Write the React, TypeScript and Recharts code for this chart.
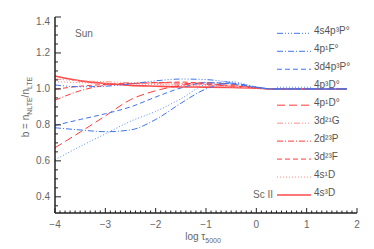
import React from "react";
import {
  LineChart,
  Line,
  XAxis,
  YAxis,
  Customized,
} from "recharts";

// log tau_5000 sample points
const logTau = [-4, -3.5, -3, -2.5, -2, -1.5, -1, -0.5, 0, 0.3, 1.8];

// departure coefficients b = n_NLTE / n_LTE
const b4s4p3P = [1.022, 1.012, 1.015, 1.028, 1.045, 1.055, 1.052, 1.035, 1.01, 1.0, 1.0];
const b4p1F = [0.784, 0.772, 0.762, 0.772, 0.83, 0.92, 1.0, 1.032, 1.01, 1.0, 1.0];
const b3d4p3P = [0.797, 0.83, 0.862, 0.9, 0.955, 1.005, 1.035, 1.028, 1.008, 1.0, 1.0];
const b4p3D = [0.606, 0.68, 0.75, 0.82, 0.875, 0.945, 1.025, 1.04, 1.012, 1.0, 1.0];
const b4p1D = [0.673, 0.76, 0.85, 0.94, 0.99, 1.02, 1.035, 1.025, 1.008, 1.0, 1.0];
const b3d21G = [1.055, 1.045, 1.04, 1.035, 1.03, 1.025, 1.02, 1.012, 1.005, 1.0, 1.0];
const b2d23P = [0.937, 0.99, 1.02, 1.03, 1.035, 1.032, 1.025, 1.015, 1.005, 1.0, 1.0];
const b3d23F = [0.998, 1.015, 1.025, 1.03, 1.035, 1.038, 1.03, 1.018, 1.006, 1.0, 1.0];
const b4s1D = [1.04, 1.035, 1.03, 1.028, 1.025, 1.02, 1.015, 1.01, 1.004, 1.0, 1.0];
const b4s3D = [1.072, 1.045, 1.03, 1.02, 1.015, 1.011, 1.01, 1.008, 1.004, 1.0, 1.0];

const xMajor = [-4, -3, -2, -1, 0, 1, 2];
const yMajor = [0.4, 0.6, 0.8, 1.0, 1.2, 1.4];

const BLUE = "#3f74ee";
const BLUE_LIGHT = "#5b8ff5";
const RED = "#ff3b3b";
const RED_LIGHT = "#ff8c8c";

const DDD = "6 2 1 2 1 2 1 2";
const DD = "6 2 1 2";

// legend order top to bottom
const series = [
  { key: "s4s4p3P", label: "4s4p³P°", values: b4s4p3P, color: BLUE, dash: DDD, width: 1 },
  { key: "s4p1F", label: "4p¹F°", values: b4p1F, color: BLUE, dash: DD, width: 1 },
  { key: "s3d4p3P", label: "3d4p³P°", values: b3d4p3P, color: BLUE, dash: "5 3", width: 1 },
  { key: "s4p3D", label: "4p³D°", values: b4p3D, color: BLUE_LIGHT, dash: "1 2", width: 1 },
  { key: "s4p1D", label: "4p¹D°", values: b4p1D, color: RED, dash: "8 4", width: 1 },
  { key: "s3d21G", label: "3d²¹G", values: b3d21G, color: RED_LIGHT, dash: DDD, width: 1 },
  { key: "s2d23P", label: "2d²³P", values: b2d23P, color: RED, dash: DD, width: 1 },
  { key: "s3d23F", label: "3d²³F", values: b3d23F, color: RED, dash: "5 3", width: 1 },
  { key: "s4s1D", label: "4s¹D", values: b4s1D, color: RED_LIGHT, dash: "1 2", width: 1 },
  { key: "s4s3D", label: "4s³D", values: b4s3D, color: "#ff4a4a", dash: undefined, width: 1.6 },
];

const data = logTau.map((x, i) => {
  const row: Record<string, number> = { x };
  series.forEach((s) => (row[s.key] = s.values[i]));
  return row;
});

const round2 = (v: number) => Math.round(v * 100) / 100;
const xTicks: number[] = [];
for (let i = 0; i <= 60; i++) xTicks.push(round2(-4 + i * 0.1));
const yTicks: number[] = [];
for (let i = 0; i <= 21; i++) yTicks.push(round2(0.35 + i * 0.05));

const isMajor = (v: number, majors: number[]) => majors.some((m) => Math.abs(m - v) < 1e-6);
const fmtX = (v: number) => (v < 0 ? "\u2212" + Math.abs(v) : String(v));

const FONT = "Liberation Sans, Arial, sans-serif";
const AXIS = "#222";
const TEXT = "#666";

const BottomTick = (props: any) => {
  const { x, y, payload } = props;
  const major = isMajor(payload.value, xMajor);
  return (
    <g>
      <line x1={x} x2={x} y1={y} y2={y - (major ? 5 : 2.5)} stroke={AXIS} />
      {major && (
        <text x={x} y={y + 15} textAnchor="middle" fontSize={10} fill={TEXT} fontFamily={FONT}>
          {fmtX(payload.value)}
        </text>
      )}
    </g>
  );
};

const TopTick = (props: any) => {
  const { x, y, payload } = props;
  const major = isMajor(payload.value, xMajor);
  return <line x1={x} x2={x} y1={y} y2={y + (major ? 5 : 2.5)} stroke={AXIS} />;
};

const LeftTick = (props: any) => {
  const { x, y, payload } = props;
  const major = isMajor(payload.value, yMajor);
  return (
    <g>
      <line x1={x} x2={x + (major ? 6 : 3)} y1={y} y2={y} stroke={AXIS} />
      {major && (
        <text
          x={x - 5}
          y={y + (payload.value > 1.35 ? 8 : 3.5)}
          textAnchor="end"
          fontSize={10}
          fill={TEXT}
          fontFamily={FONT}
        >
          {payload.value.toFixed(1)}
        </text>
      )}
    </g>
  );
};

const RightTick = (props: any) => {
  const { x, y, payload } = props;
  const major = isMajor(payload.value, yMajor);
  return <line x1={x} x2={x - (major ? 6 : 3)} y1={y} y2={y} stroke={AXIS} />;
};

const Annotations = () => (
  <g fontFamily={FONT} fill={TEXT}>
    <text x={75} y={37} fontSize={10}>Sun</text>
    <text x={273} y={198} fontSize={10} textAnchor="end">Sc II</text>
    {series.map((s, i) => {
      const y = 33.3 + i * 17.97;
      return (
        <g key={s.key}>
          <line x1={277} x2={311} y1={y} y2={y} stroke={s.color} strokeWidth={s.width} strokeDasharray={s.dash} />
          <text x={314} y={y + 1} fontSize={10} fill="#555">{s.label}</text>
        </g>
      );
    })}
    <text x={203} y={240} fontSize={10} textAnchor="middle">
      log τ<tspan fontSize={7} dy={3}>5000</tspan>
    </text>
    <text x={29} y={107} fontSize={10} textAnchor="middle" transform="rotate(-90 29 107)">
      b = n<tspan fontSize={7} dy={3}>NLTE</tspan>
      <tspan dy={-3}>/n</tspan>
      <tspan fontSize={7} dy={3}>LTE</tspan>
    </text>
  </g>
);

export default function App() {
  return (
    <div style={{ position: "absolute", left: 0, top: 0, background: "#fff" }}>
      <LineChart width={374} height={249} data={data} margin={{ top: 17, right: 17, bottom: 0, left: 0 }}>
        <XAxis
          dataKey="x"
          type="number"
          domain={[-4, 2]}
          ticks={xTicks}
          interval={0}
          height={36}
          tickSize={0}
          tickMargin={0}
          tickLine={false}
          axisLine={{ stroke: AXIS, strokeWidth: 1.5 }}
          tick={(p: any) => <BottomTick {...p} />}
        />
        <XAxis
          xAxisId="top"
          orientation="top"
          dataKey="x"
          type="number"
          domain={[-4, 2]}
          ticks={xTicks}
          interval={0}
          height={0}
          tickSize={0}
          tickMargin={0}
          tickLine={false}
          axisLine={{ stroke: AXIS, strokeWidth: 1.5 }}
          tick={(p: any) => <TopTick {...p} />}
        />
        <YAxis
          type="number"
          domain={[0.31, 1.4]}
          ticks={yTicks}
          interval={0}
          width={55}
          tickSize={0}
          tickMargin={0}
          tickLine={false}
          allowDataOverflow
          axisLine={{ stroke: AXIS, strokeWidth: 1.5 }}
          tick={(p: any) => <LeftTick {...p} />}
        />
        <YAxis
          yAxisId="right"
          orientation="right"
          type="number"
          domain={[0.31, 1.4]}
          ticks={yTicks}
          interval={0}
          width={0}
          tickSize={0}
          tickMargin={0}
          tickLine={false}
          allowDataOverflow
          axisLine={{ stroke: AXIS, strokeWidth: 1.5 }}
          tick={(p: any) => <RightTick {...p} />}
        />
        {[...series].reverse().map((s) => (
          <Line
            key={s.key}
            dataKey={s.key}
            type="monotone"
            stroke={s.color}
            strokeWidth={s.width}
            strokeDasharray={s.dash}
            dot={false}
            activeDot={false}
            isAnimationActive={false}
          />
        ))}
        <Customized component={Annotations} />
      </LineChart>
    </div>
  );
}
